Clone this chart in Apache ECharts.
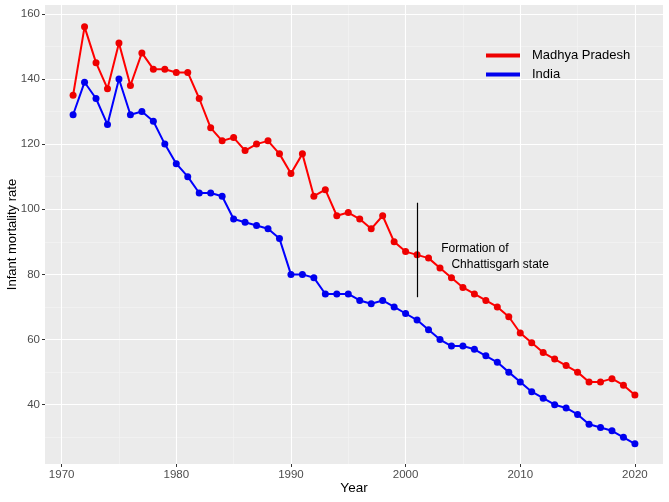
<!DOCTYPE html>
<html>
<head>
<meta charset="utf-8">
<script src="https://cdn.jsdelivr.net/npm/echarts@6/dist/echarts.min.js"></script>
<style>
  html, body { margin: 0; padding: 0; background: #fff; }
  #container { width: 669px; height: 502px; }
</style>
</head>
<body>
<div id="container"></div>
<script>
// data
const years = [];
for (let y = 1971; y <= 2020; y++) years.push(y);

const madhyaPradesh = [135, 156, 145, 137, 151, 138, 148, 143, 143, 142,
  142, 134, 125, 121, 122, 118, 120, 121, 117, 111,
  117, 104, 106, 98, 99, 97, 94, 98, 90, 87,
  86, 85, 82, 79, 76, 74, 72, 70, 67, 62,
  59, 56, 54, 52, 50, 47, 47, 48, 46, 43];

const india = [129, 139, 134, 126, 140, 129, 130, 127, 120, 114,
  110, 105, 105, 104, 97, 96, 95, 94, 91, 80,
  80, 79, 74, 74, 74, 72, 71, 72, 70, 68,
  66, 63, 60, 58, 58, 57, 55, 53, 50, 47,
  44, 42, 40, 39, 37, 34, 33, 32, 30, 28];

const xTicks = [1970, 1980, 1990, 2000, 2010, 2020];
const xMinor = [1975, 1985, 1995, 2005, 2015];
const yTicks = [40, 60, 80, 100, 120, 140, 160];
const yMinor = [30, 50, 70, 90, 110, 130, 150];

const formationYear = 2001;
const formationRange = [73, 102];
const noteLines = ['Formation of', 'Chhattisgarh state'];
const notePos = [[2003.1, 88], [2004.0, 83]];

const font = 'Liberation Sans, Arial, sans-serif';

function pairs(arr) {
  return years.map((y, i) => [y, arr[i]]);
}

let option = {
  animation: false,
  textStyle: { fontFamily: font },
  grid: {
    left: 45, right: 6, top: 5, bottom: 38,
    outerBoundsMode: 'none',
    containLabel: false,
    show: true,
    backgroundColor: '#EBEBEB',
    borderWidth: 0
  },
  legend: {
    left: 481,
    top: 44,
    orient: 'vertical',
    itemWidth: 34,
    itemHeight: 4,
    itemGap: 6,
    icon: 'rect',
    data: ['Madhya Pradesh', 'India'],
    textStyle: { color: '#000', fontSize: 13, fontFamily: font, padding: [0, 0, 0, 7] }
  },
  xAxis: {
    type: 'value',
    min: 1968.55,
    max: 2022.45,
    name: 'Year',
    nameLocation: 'middle',
    nameGap: 17,
    nameMoveOverlap: false,
    nameTextStyle: { color: '#000', fontSize: 13.5, fontFamily: font },
    axisLine: { show: false },
    axisTick: { show: true, length: 3, customValues: xTicks, lineStyle: { color: '#333', width: 1 } },
    axisLabel: { customValues: xTicks, formatter: v => String(v), color: '#4D4D4D', fontSize: 11.5, margin: 5, fontFamily: font },
    splitLine: { show: false }
  },
  yAxis: {
    type: 'value',
    min: 21.8,
    max: 162.7,
    name: 'Infant mortality rate',
    nameLocation: 'middle',
    nameGap: 26,
    nameMoveOverlap: false,
    nameTextStyle: { color: '#000', fontSize: 13, fontFamily: font },
    axisLine: { show: false },
    axisTick: { show: true, length: 3, customValues: yTicks, lineStyle: { color: '#333', width: 1 } },
    axisLabel: { customValues: yTicks, color: '#4D4D4D', fontSize: 11.5, margin: 5, fontFamily: font },
    splitLine: { show: false }
  },
  series: [
    {
      // panel grid lines
      type: 'line',
      data: [],
      z: 1,
      silent: true,
      markLine: {
        silent: true,
        z: 1,
        symbol: 'none',
        label: { show: false },
        animation: false,
        data: []
          .concat(xMinor.map(v => ({ xAxis: v, lineStyle: { color: '#F5F5F5', width: 0.6, type: 'solid' } })))
          .concat(yMinor.map(v => ({ yAxis: v, lineStyle: { color: '#F5F5F5', width: 0.6, type: 'solid' } })))
          .concat(xTicks.map(v => ({ xAxis: v, lineStyle: { color: '#FFFFFF', width: 1.1, type: 'solid' } })))
          .concat(yTicks.map(v => ({ yAxis: v, lineStyle: { color: '#FFFFFF', width: 1.1, type: 'solid' } })))
      }
    },
    {
      name: 'Madhya Pradesh',
      type: 'line',
      z: 3,
      data: pairs(madhyaPradesh),
      color: '#FF0000',
      symbol: 'circle',
      symbolSize: 7,
      showSymbol: true,
      lineStyle: { color: '#FF0000', width: 2 },
      itemStyle: { color: '#EE0000' }
    },
    {
      name: 'India',
      type: 'line',
      z: 3,
      data: pairs(india),
      color: '#0000FF',
      symbol: 'circle',
      symbolSize: 7,
      showSymbol: true,
      lineStyle: { color: '#0000FF', width: 2 },
      itemStyle: { color: '#0000EE' }
    },
    {
      // annotation: vertical line + text
      type: 'line',
      data: [],
      z: 4,
      silent: true,
      markLine: {
        silent: true,
        z: 4,
        symbol: 'none',
        label: { show: false },
        lineStyle: { color: '#000', width: 1.2, type: 'solid' },
        data: [[{ coord: [formationYear, formationRange[0]] }, { coord: [formationYear, formationRange[1]] }]]
      },
      markPoint: {
        silent: true,
        z: 4,
        symbol: 'circle',
        symbolSize: 0,
        data: noteLines.map((t, i) => ({
          coord: notePos[i],
          label: {
            show: true,
            formatter: t,
            position: 'right',
            distance: 0,
            color: '#000',
            fontSize: 12,
            fontFamily: font
          }
        }))
      }
    }
  ]
};

let myChart = echarts.init(document.getElementById('container'));
myChart.setOption(option);
</script>
</body>
</html>
